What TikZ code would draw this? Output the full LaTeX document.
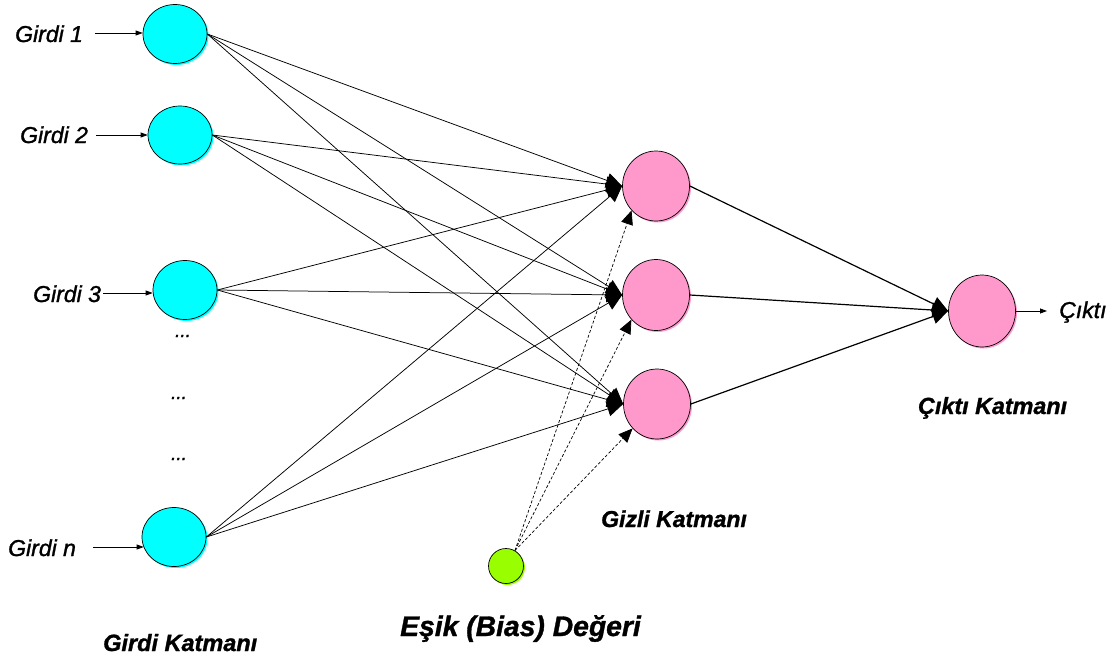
\documentclass[tikz,border=0pt]{standalone}
\usepackage{fontspec}
\setmainfont{Liberation Sans}
\newfontface\lblfont[FakeBold=1.3]{Liberation Sans Italic}
\newfontface\lyrfont[FakeBold=1.2]{Liberation Sans Bold Italic}
\usetikzlibrary{shapes.geometric,arrows.meta}
\definecolor{incol}{HTML}{00FFFF}
\definecolor{hidcol}{HTML}{FF99CC}
\definecolor{biascol}{HTML}{99FF00}
\begin{document}
\begin{tikzpicture}[x=1pt,y=-1pt,
  neuron/.style={ellipse, draw=black, line width=0.7pt, inner sep=0pt,
    preaction={fill=#1, transform canvas={shift={(1.5pt,-1.5pt)}}}, fill=#1},
  conn/.style={line width=0.75pt, -{Triangle[length=16pt,width=15pt]}},
  outconn/.style={line width=1.2pt, -{Triangle[length=16pt,width=15pt]}},
  biasconn/.style={line width=0.7pt, dash pattern=on 3pt off 2pt, -{Triangle[length=14pt,width=12pt]}},
  smallarrow/.style={line width=0.8pt, -{Triangle[length=7pt,width=5pt]}},
  inlabel/.style={inner sep=0pt, anchor=base west, font=\fontsize{23}{23}\lblfont},
  layerlabel/.style={inner sep=0pt, anchor=base west, font=\fontsize{23.5}{23.5}\lyrfont},
  dotlabel/.style={inner sep=0pt, font=\fontsize{19}{19}\lblfont}
]
\useasboundingbox (0,0) rectangle (1115,666);

% input neurons
\node[neuron=incol, minimum width=64pt, minimum height=59pt] (in1) at (175,34) {};
\node[neuron=incol, minimum width=64pt, minimum height=58pt] (in2) at (180,135) {};
\node[neuron=incol, minimum width=64pt, minimum height=59pt] (in3) at (185,290) {};
\node[neuron=incol, minimum width=64pt, minimum height=59pt] (in4) at (174,537) {};

% hidden neurons
\node[neuron=hidcol, minimum width=67pt, minimum height=70pt] (h1) at (656,186) {};
\node[neuron=hidcol, minimum width=67pt, minimum height=71pt] (h2) at (656,295) {};
\node[neuron=hidcol, minimum width=67pt, minimum height=70pt] (h3) at (657,404) {};

% output neuron
\node[neuron=hidcol, minimum width=67pt, minimum height=72pt] (out) at (982,311) {};

% bias
\node[neuron=biascol, minimum width=35pt, minimum height=35pt] (bias) at (506,566) {};

% input -> hidden
\foreach \i in {1,2,3,4}{
  \foreach \j in {1,2,3}{
    \draw[conn] (in\i.east) -- (h\j.west);
  }
}

% bias -> hidden
\foreach \j in {1,2,3}{
  \draw[biasconn] (bias.60) -- (h\j.225);
}

% hidden -> output
\foreach \j in {1,2,3}{
  \draw[outconn] (h\j.east) -- (out.west);
}

% input labels and arrows
\node[inlabel] (l1) at (15,42) {Girdi 1};
\node[inlabel] (l2) at (20,143) {Girdi 2};
\node[inlabel] (l3) at (33,302) {Girdi 3};
\node[inlabel] (l4) at (8,556) {Girdi n};

\coordinate (a1) at (95,33);
\coordinate (a2) at (96,135);
\coordinate (a3) at (103,293);
\coordinate (a4) at (93,547);
\draw[smallarrow] (a1) -- (a1 -| in1.west);
\draw[smallarrow] (a2) -- (a2 -| in2.west);
\draw[smallarrow] (a3) -- (a3 -| in3.west);
\draw[smallarrow] (a4) -- ([xshift=2pt]a4 -| in4.west);

% dots
\node[dotlabel] (d1) at (183,336) {...};
\node[dotlabel] (d2) at (179,398) {...};
\node[dotlabel] (d3) at (179,459) {...};

% output arrow and label
\coordinate (cy) at (1047,311);
\draw[smallarrow] (out.east) -- (cy);
\node[inlabel] (lout) at (1059,318) {Çıktı};

% layer labels
\node[layerlabel] (lk1) at (103,651) {Girdi Katmanı};
\node[layerlabel, font=\fontsize{28.3}{28.3}\lyrfont] (lk2) at (400,636) {Eşik (Bias) Değeri};
\node[layerlabel, font=\fontsize{23}{23}\lyrfont] (lk3) at (601,527) {Gizli Katmanı};
\node[layerlabel, font=\fontsize{23.3}{23.3}\lyrfont] (lk4) at (918,414) {Çıktı Katmanı};
\end{tikzpicture}
\end{document}
